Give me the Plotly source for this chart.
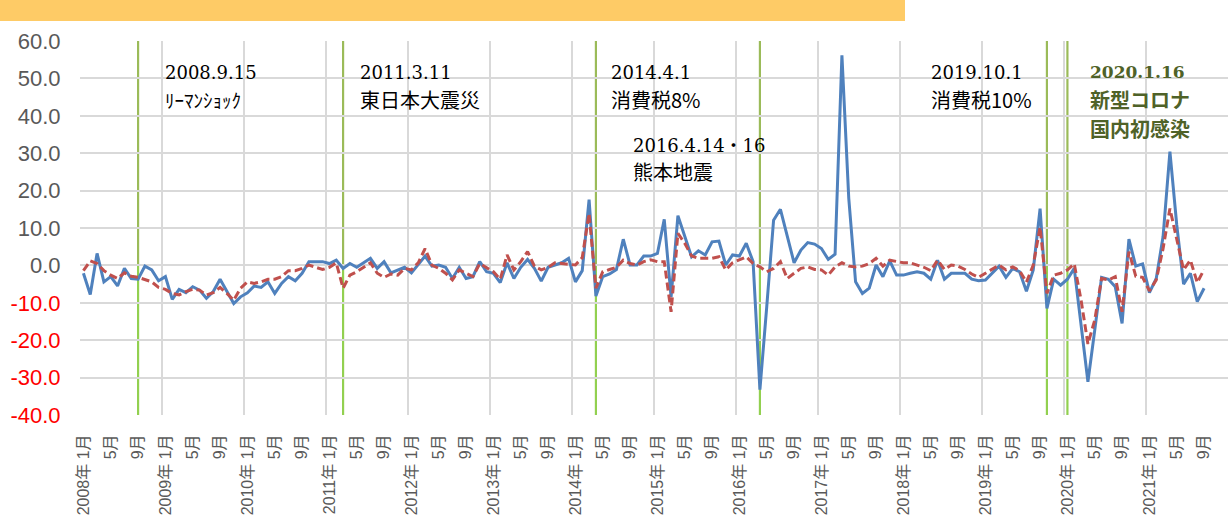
import plotly.graph_objects as go

# ---- data (monthly, 2008-01 .. 2021-09) ----
start_year = 2008
label_years = list(range(2008, 2022))
label_months = [1, 5, 9]

series_blue = [
    -2.1, -7.8, 3.2, -4.4, -3.0, -5.5, -0.8, -3.5, -3.7, -0.2, -1.2, -4.1,
    -3.0, -9.1, -6.4, -7.3, -5.7, -6.6, -8.8, -7.0, -3.7, -7.0, -10.2, -8.4,
    -7.3, -5.5, -5.9, -4.4, -7.5, -4.8, -3.0, -4.1, -2.1, 1.0, 1.0, 1.0,
    0.5, 1.4, -0.8, 0.5, -0.5, 0.7, 1.9, -0.8, 1.0, -2.0, -1.2, -0.5,
    -2.0, 0.1, 2.5, -0.2, 0.1, -0.5, -3.5, -0.5, -3.5, -3.0, 1.0, -1.7,
    -2.1, -4.6, 0.7, -3.5, -0.5, 1.6, -0.8, -4.2, -0.5, 0.1, 0.7, 1.9,
    -4.4, -1.4, 17.6, -8.2, -3.0, -2.3, -1.1, 7.0, 0.1, 0.1, 2.5, 2.5,
    3.2, 12.3, -8.5, 13.3, 7.7, 2.3, 3.9, 2.8, 6.3, 6.5, 0.1, 2.8,
    2.5, 5.9, 1.0, -33.2, -11.0, 12.1, 15.0, 7.7, 0.7, 4.1, 6.1, 5.7,
    4.5, 1.6, 3.0, 56.2, 18.0, -4.4, -7.5, -6.1, 0.1, -3.0, 1.2, -2.6,
    -2.6, -2.1, -1.7, -2.1, -3.7, 1.4, -3.7, -2.1, -2.1, -2.1, -3.7, -4.1,
    -3.9, -2.1, -0.2, -3.2, -0.8, -1.7, -6.9, -1.2, 15.2, -11.5, -3.7, -5.3,
    -3.7, -0.8, -16.0, -31.1, -17.3, -3.2, -3.7, -5.7, -15.5, 7.0, -0.2, 0.4,
    -7.3, -3.5, 7.7, 30.4, 10.8, -5.0, -2.1, -9.7, -6.1,
]

series_red = [
    -1.4, 1.2, 0.5, -1.4, -2.6, -3.5, -2.0, -2.9, -3.2, -3.9, -4.4, -5.9,
    -6.4, -7.5, -7.9, -7.0, -6.4, -6.6, -7.9, -7.3, -5.9, -7.5, -9.3, -6.1,
    -4.4, -4.8, -4.4, -3.7, -3.7, -3.0, -1.4, -1.4, -0.8, 0.1, -0.4, -1.1,
    -0.5, 0.7, -6.1, -2.6, -1.7, -0.5, 0.7, -2.1, -3.2, -2.3, -2.6, -0.8,
    -1.2, 0.7, 4.5, 0.1, -0.8, -2.1, -3.9, -1.2, -2.1, -3.0, 0.5, -0.5,
    -1.7, -3.7, 2.8, -1.2, 1.0, 3.7, -0.2, -1.2, -0.5, 0.7, 0.5, 0.1,
    0.1, 2.1, 13.9, -6.1, -1.7, -1.1, -0.5, 1.4, 0.5, 0.1, 1.0, 1.5,
    1.0, 1.0, -12.4, 8.6, 5.9, 2.5, 1.9, 1.9, 1.9, 2.3, -1.2, 0.7,
    1.4, 2.3, 0.5, -0.4, -1.7, -0.8, 1.0, -3.5, -2.1, -0.8, -0.4, -1.1,
    -1.2, -2.6, -0.4, 0.7, -0.2, -0.4, -0.2, 0.5, 1.9, -0.2, 1.4, 1.0,
    0.7, 0.7, 0.1, -0.5, -1.4, 1.4, -1.1, 0.1, -0.2, -1.1, -2.3, -3.2,
    -2.1, -1.1, 0.1, -1.2, -0.4, -1.4, -4.5, 0.1, 10.2, -7.5, -2.6, -2.1,
    -1.2, 0.4, -9.3, -21.0, -14.6, -3.5, -3.9, -3.0, -12.4, 3.7, -2.9, -3.2,
    -6.8, -3.9, 4.5, 15.2, 6.8, -1.2, 1.4, -4.6, -1.1,
]

event_year = [2008, 2011, 2014, 2016, 2019, 2020]
event_month = [9, 3, 4, 4, 10, 1]

y_ticks = [60, 50, 40, 30, 20, 10, 0, -10, -20, -30, -40]

# ---- build ----
n = len(series_blue)
x_idx = list(range(n))

tickvals, ticktext = [], []
for y in label_years:
    for m in label_months:
        i = (y - start_year) * 12 + (m - 1)
        if i < n:
            tickvals.append(i)
            ticktext.append(f"{y}年 {m}月" if m == 1 else f"{m}月")

ytext = []
for v in y_ticks:
    s = f"{v:.1f}"
    if v < 0:
        s = f"<span style='color:#FF0000'>{s}</span>"
    ytext.append(s)

fig = go.Figure()
fig.add_trace(go.Scatter(x=x_idx, y=series_blue, mode="lines",
                         line=dict(color="#4F81BD", width=3), showlegend=False))
fig.add_trace(go.Scatter(x=x_idx, y=series_red, mode="lines",
                         line=dict(color="#C0504D", width=3, dash="8px,4px"), showlegend=False))

for ey, em in zip(event_year, event_month):
    xi = (ey - start_year) * 12 + (em - 1)
    fig.add_shape(type="line", x0=xi, x1=xi, y0=0, y1=60, xref="x", yref="y",
                  line=dict(color="#9BBB59", width=2.2), layer="below")
    fig.add_shape(type="line", x0=xi, x1=xi, y0=-40, y1=0, xref="x", yref="y",
                  line=dict(color="#92D050", width=2.2), layer="below")

L, R, T, B = 80, 1228, 41, 415
def px(xp, yp):
    return (xp - L) / (R - L), (B - yp) / (B - T)

bx0, by0 = px(0, 21)
bx1, by1 = px(905, -2)
fig.add_shape(type="rect", xref="paper", yref="paper", x0=bx0, x1=bx1, y0=by0, y1=by1,
              fillcolor="#FECB66", line=dict(width=0), layer="above")

serif = "DejaVu Serif, Noto Sans CJK JP"
cjk = "Noto Sans CJK JP"
ann = [
    (163, 72, "2008.9.15", serif, 18, "#000000", False),
    (163, 100, "ﾘｰﾏﾝｼｮｯｸ", cjk, 19, "#000000", False),
    (358, 72, "2011.3.11", serif, 18, "#000000", False),
    (358, 100, "東日本大震災", cjk, 20, "#000000", False),
    (609, 72, "2014.4.1", serif, 18, "#000000", False),
    (609, 100, "消費税8%", cjk, 20, "#000000", False),
    (631, 145, "2016.4.14・16", serif, 18, "#000000", False),
    (631, 172, "熊本地震", cjk, 20, "#000000", False),
    (929, 72, "2019.10.1", serif, 18, "#000000", False),
    (929, 100, "消費税10%", cjk, 20, "#000000", False),
    (1088, 72, "2020.1.16", serif, 17, "#4F6228", True),
    (1088, 100, "新型コロナ", cjk, 20, "#4F6228", True),
    (1088, 128, "国内初感染", cjk, 20, "#4F6228", True),
]
for xp_, yp_, t, fam, sz, col, bold in ann:
    ax, ay = px(xp_, yp_)
    fig.add_annotation(x=ax, y=ay, xref="paper", yref="paper", text=f"<b>{t}</b>" if bold else t,
                       showarrow=False, xanchor="left", yanchor="middle",
                       font=dict(family=fam, size=sz, color=col))

fig.update_layout(
    width=1229, height=531,
    margin=dict(l=L, r=1229 - R, t=T, b=531 - B, autoexpand=False),
    paper_bgcolor="white", plot_bgcolor="white",
    font=dict(family="Liberation Sans, Noto Sans CJK JP", color="#595959"),
    xaxis=dict(
        range=[-0.5, 167.5], tickmode="array", tickvals=tickvals, ticktext=ticktext,
        tickangle=-90, tickfont=dict(size=16, color="#595959"),
        showgrid=False, zeroline=False, showline=False, automargin=False,
        ticks="outside", ticklen=12, tickcolor="rgba(0,0,0,0)",
        minor=dict(tickmode="linear", tick0=-0.5, dtick=12, showgrid=True,
                   gridcolor="#D9D9D9", gridwidth=1.5),
    ),
    yaxis=dict(
        range=[-40, 60], tickmode="array", tickvals=y_ticks, ticktext=ytext,
        tickfont=dict(size=22, color="#595959"),
        showgrid=True, gridcolor="#D9D9D9", gridwidth=1.5,
        zeroline=False, showline=False, automargin=False,
        ticks="outside", ticklen=14, tickcolor="rgba(0,0,0,0)",
    ),
)

fig.write_html("out.html", config={"displayModeBar": False},
               post_script="document.body.style.margin='0px';document.body.style.overflow='hidden';")
